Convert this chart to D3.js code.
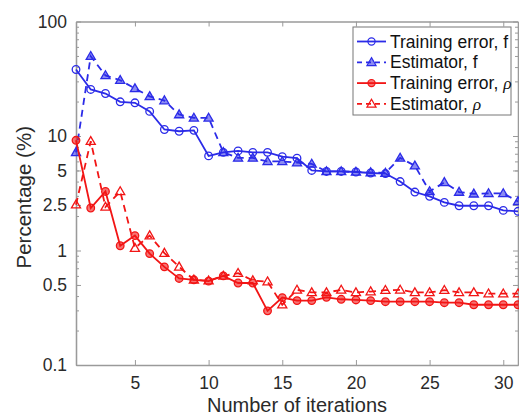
<!DOCTYPE html>
<html><head><meta charset="utf-8">
<script src="https://cdn.jsdelivr.net/npm/d3@7"></script>
<style>html,body{margin:0;padding:0;background:#fff;overflow:hidden}</style>
</head><body>
<svg id="c" width="519" height="416"></svg>
<script>
const iterations = [1,2,3,4,5,6,7,8,9,10,11,12,13,14,15,16,17,18,19,20,21,22,23,24,25,26,27,28,29,30,31];
const trainF = [38.1,25.5,23.5,19.9,19.5,16.4,11.4,11.0,11.2,6.7,7.2,7.4,7.2,7.2,6.6,6.4,5.0,4.9,4.9,4.85,4.75,4.7,4.0,3.24,2.97,2.63,2.46,2.46,2.46,2.24,2.2];
const estF = [7.2,49.8,33.8,30.7,26.0,22.2,20.4,15.4,14.4,14.4,7.2,6.43,6.43,6.0,6.0,5.85,5.7,4.9,4.9,4.85,4.8,4.75,6.43,5.5,3.28,3.94,3.24,3.13,3.15,3.15,2.68];
const trainRho = [9.17,2.35,3.28,1.1,1.35,0.94,0.72,0.57,0.555,0.54,0.6,0.52,0.52,0.297,0.388,0.365,0.365,0.39,0.375,0.37,0.365,0.357,0.357,0.357,0.357,0.35,0.35,0.336,0.336,0.336,0.336];
const estRho = [2.51,9.0,2.4,3.28,1.05,1.35,0.95,0.72,0.555,0.545,0.6,0.634,0.547,0.535,0.336,0.453,0.43,0.43,0.453,0.43,0.438,0.45,0.453,0.43,0.43,0.45,0.43,0.43,0.42,0.42,0.42];
const xTicks = [5,10,15,20,25,30];
const yTicks = [0.1,0.5,1,2.5,5,10,100];
const yTickLabels = ["0.1","0.5","1","2.5","5","10","100"];
const legendLabels = [["Training error, ", "f", false],["Estimator, ","f",false],["Training error, ","ρ",true],["Estimator, ","ρ",true]];

const BLUE = "#2b2be8", RED = "#f21515";
const series = [
  {vals: trainF, color: BLUE, dash: null, marker: "circle", fill: "none"},
  {vals: estF, color: BLUE, dash: "7,5", marker: "triangle", fill: "rgba(43,43,232,0.55)"},
  {vals: trainRho, color: RED, dash: null, marker: "circle", fill: "rgba(242,21,21,0.6)"},
  {vals: estRho, color: RED, dash: "7,5", marker: "triangle", fill: "none"}
];

const L = 76, R = 518, T = 21.5, B = 365;
const svg = d3.select("#c");
const x = d3.scaleLinear().domain([1,31]).range([L,R]);
const y = d3.scaleLog().domain([0.1,100]).range([B,T]);
const FONT = "'Liberation Sans', Arial, Helvetica, sans-serif";
const AX = "#9a9a9a", TXT = "#2a2a2a";

// axes
const g = svg.append("g");
const xb = g.append("g").attr("transform",`translate(0,${B})`)
  .call(d3.axisBottom(x).tickValues(xTicks).tickSizeInner(-5).tickSizeOuter(0).tickPadding(12));
const xt = g.append("g").attr("transform",`translate(0,${T})`)
  .call(d3.axisTop(x).tickValues(xTicks).tickSizeInner(-5).tickSizeOuter(0).tickFormat(""));
const minor = [];
[0.1,1,10].forEach(d=>{for(let k=2;k<=9;k++) minor.push(d*k);});
const yl = g.append("g").attr("transform",`translate(${L},0)`)
  .call(d3.axisLeft(y).tickValues(yTicks).tickFormat((d,i)=>yTickLabels[i]).tickSizeInner(-5).tickSizeOuter(0).tickPadding(9));
const ylm = g.append("g").attr("transform",`translate(${L},0)`)
  .call(d3.axisLeft(y).tickValues(minor).tickFormat("").tickSizeInner(-3).tickSizeOuter(0));
const yr = g.append("g").attr("transform",`translate(${R},0)`)
  .call(d3.axisRight(y).tickValues(yTicks).tickFormat("").tickSizeInner(-5).tickSizeOuter(0));
const yrm = g.append("g").attr("transform",`translate(${R},0)`)
  .call(d3.axisRight(y).tickValues(minor).tickFormat("").tickSizeInner(-3).tickSizeOuter(0));
[xb,xt,yl,ylm,yr,yrm].forEach(a=>{
  a.select(".domain").attr("stroke",AX).attr("stroke-width",1.3);
  a.selectAll(".tick line").attr("stroke",AX).attr("stroke-width",1);
  a.selectAll(".tick text").attr("fill",TXT).style("font-family",FONT).style("font-size","17.5px");
});

// series
const line = d3.line().x((d,i)=>x(iterations[i])).y(d=>y(d));
const tri = d3.symbol().type(d3.symbolTriangle).size(36);
series.forEach(s=>{
  svg.append("path").attr("d", line(s.vals)).attr("fill","none")
    .attr("stroke", s.color).attr("stroke-width",1.8)
    .attr("stroke-dasharray", s.dash);
  const m = svg.append("g");
  s.vals.forEach((v,i)=>{
    if(s.marker==="circle"){
      m.append("circle").attr("cx",x(iterations[i])).attr("cy",y(v)).attr("r",3.8)
        .attr("fill",s.fill).attr("stroke",s.color).attr("stroke-width",1.3);
    } else {
      m.append("path").attr("d",tri()).attr("transform",`translate(${x(iterations[i])},${y(v)+0.6})`)
        .attr("fill",s.fill).attr("stroke",s.color).attr("stroke-width",1.3);
    }
  });
});

// labels
svg.append("text").attr("x",(L+R)/2).attr("y",412).attr("text-anchor","middle")
  .style("font-family",FONT).style("font-size","20px").attr("fill",TXT).text("Number of iterations");
svg.append("text").attr("transform",`translate(31,${(T+B)/2+4}) rotate(-90)`).attr("text-anchor","middle")
  .style("font-family",FONT).style("font-size","20.5px").attr("fill",TXT).text("Percentage (%)");

// legend
const lg = svg.append("g");
lg.append("rect").attr("x",353).attr("y",27).attr("width",158).attr("height",88)
  .attr("fill","#fff").attr("stroke","#777").attr("stroke-width",1);
legendLabels.forEach((lab,i)=>{
  const s = series[i];
  const yy = 41.5 + i*20.8;
  lg.append("line").attr("x1",357).attr("x2",386).attr("y1",yy).attr("y2",yy)
    .attr("stroke",s.color).attr("stroke-width",1.8).attr("stroke-dasharray",s.dash ? "5,4" : null);
  if(s.marker==="circle"){
    lg.append("circle").attr("cx",371.5).attr("cy",yy).attr("r",3.6)
      .attr("fill",s.fill).attr("stroke",s.color).attr("stroke-width",1.2);
  } else {
    lg.append("path").attr("d",tri()).attr("transform",`translate(371.5,${yy+0.6})`)
      .attr("fill",s.fill).attr("stroke",s.color).attr("stroke-width",1.2);
  }
  const t = lg.append("text").attr("x",390).attr("y",yy+6).style("font-family",FONT)
    .style("font-size","17.5px").attr("fill","#111");
  t.append("tspan").text(lab[0]);
  const sp = t.append("tspan").text(lab[1]);
  if(lab[2]) sp.style("font-family","'Liberation Serif', 'Times New Roman', serif").style("font-style","italic");
});
</script>
</body></html>
